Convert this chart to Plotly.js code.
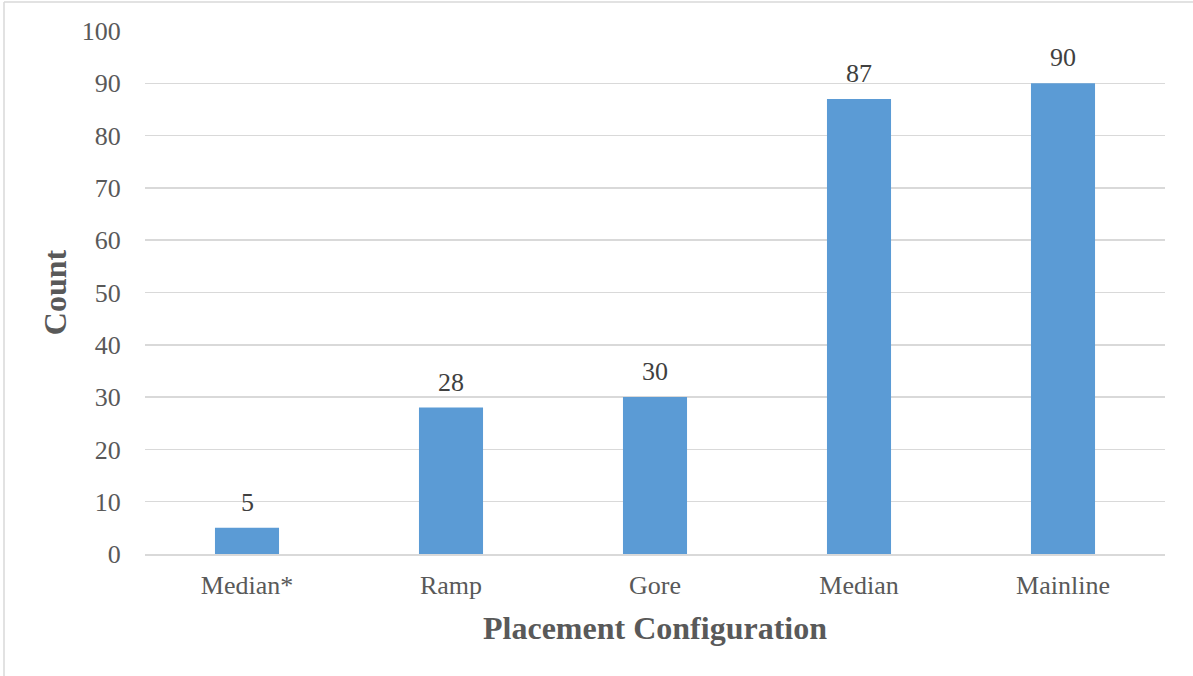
<!DOCTYPE html>
<html>
<head>
<meta charset="utf-8">
<script src="https://cdn.plot.ly/plotly-3.0.1.min.js"></script>
<style>
html,body{margin:0;padding:0;background:#fff;}
#chart{width:1193px;height:676px;}
</style>
</head>
<body>
<div id="chart"></div>
<script>
const categories = ["Median*", "Ramp", "Gore", "Median", "Mainline"];
const counts = [5, 28, 30, 87, 90];
const yTicks = [0, 10, 20, 30, 40, 50, 60, 70, 80, 90, 100];

const W = 1193, H = 676;
const m = {l: 145, r: 28, t: 31, b: 122};
const pw = W - m.l - m.r, ph = H - m.t - m.b;
const font = "Liberation Serif, Times New Roman, serif";

const trace = {
  type: "bar",
  x: categories,
  y: counts,
  width: 0.314,
  marker: {color: "#5B9BD5"},
  hoverinfo: "none"
};

const labels = categories.map((c, i) => ({
  x: c, y: counts[i], xref: "x", yref: "y",
  text: String(counts[i]),
  showarrow: false,
  yanchor: "bottom",
  yshift: 9,
  font: {family: font, size: 26, color: "#404040"}
}));

const layout = {
  width: W, height: H,
  margin: m,
  paper_bgcolor: "#fff",
  plot_bgcolor: "#fff",
  showlegend: false,
  xaxis: {
    type: "category",
    showgrid: false,
    showline: true,
    linecolor: "#d9d9d9",
    linewidth: 1.5,
    ticks: "outside",
    ticklen: 7,
    tickcolor: "rgba(0,0,0,0)",
    tickfont: {family: font, size: 26, color: "#595959"},
    title: {text: "<b>Placement Configuration</b>", font: {family: font, size: 32, color: "#595959"}, standoff: 18}
  },
  yaxis: {
    range: [0, 100],
    tickvals: yTicks,
    ticktext: yTicks.map(String),
    showgrid: true,
    gridcolor: "#d9d9d9",
    gridwidth: 1.5,
    zeroline: false,
    showline: false,
    ticks: "outside",
    ticklen: 18,
    tickcolor: "rgba(0,0,0,0)",
    tickfont: {family: font, size: 26, color: "#595959"},
    title: {text: "<b>Count</b>", font: {family: font, size: 32, color: "#595959"}, standoff: 5}
  },
  annotations: labels,
  shapes: [
    {type: "line", xref: "paper", yref: "paper",
     x0: (4 - m.l) / pw, x1: (W + 5 - m.l) / pw,
     y0: (H - 2 - m.b) / ph, y1: (H - 2 - m.b) / ph,
     line: {color: "#d9d9d9", width: 1.5}},
    {type: "line", xref: "paper", yref: "paper",
     x0: (4 - m.l) / pw, x1: (4 - m.l) / pw,
     y0: (H - 2 - m.b) / ph, y1: (-5 - m.b) / ph,
     line: {color: "#d9d9d9", width: 1.5}}
  ]
};

Plotly.newPlot("chart", [trace], layout, {displayModeBar: false, staticPlot: true});
</script>
</body>
</html>
